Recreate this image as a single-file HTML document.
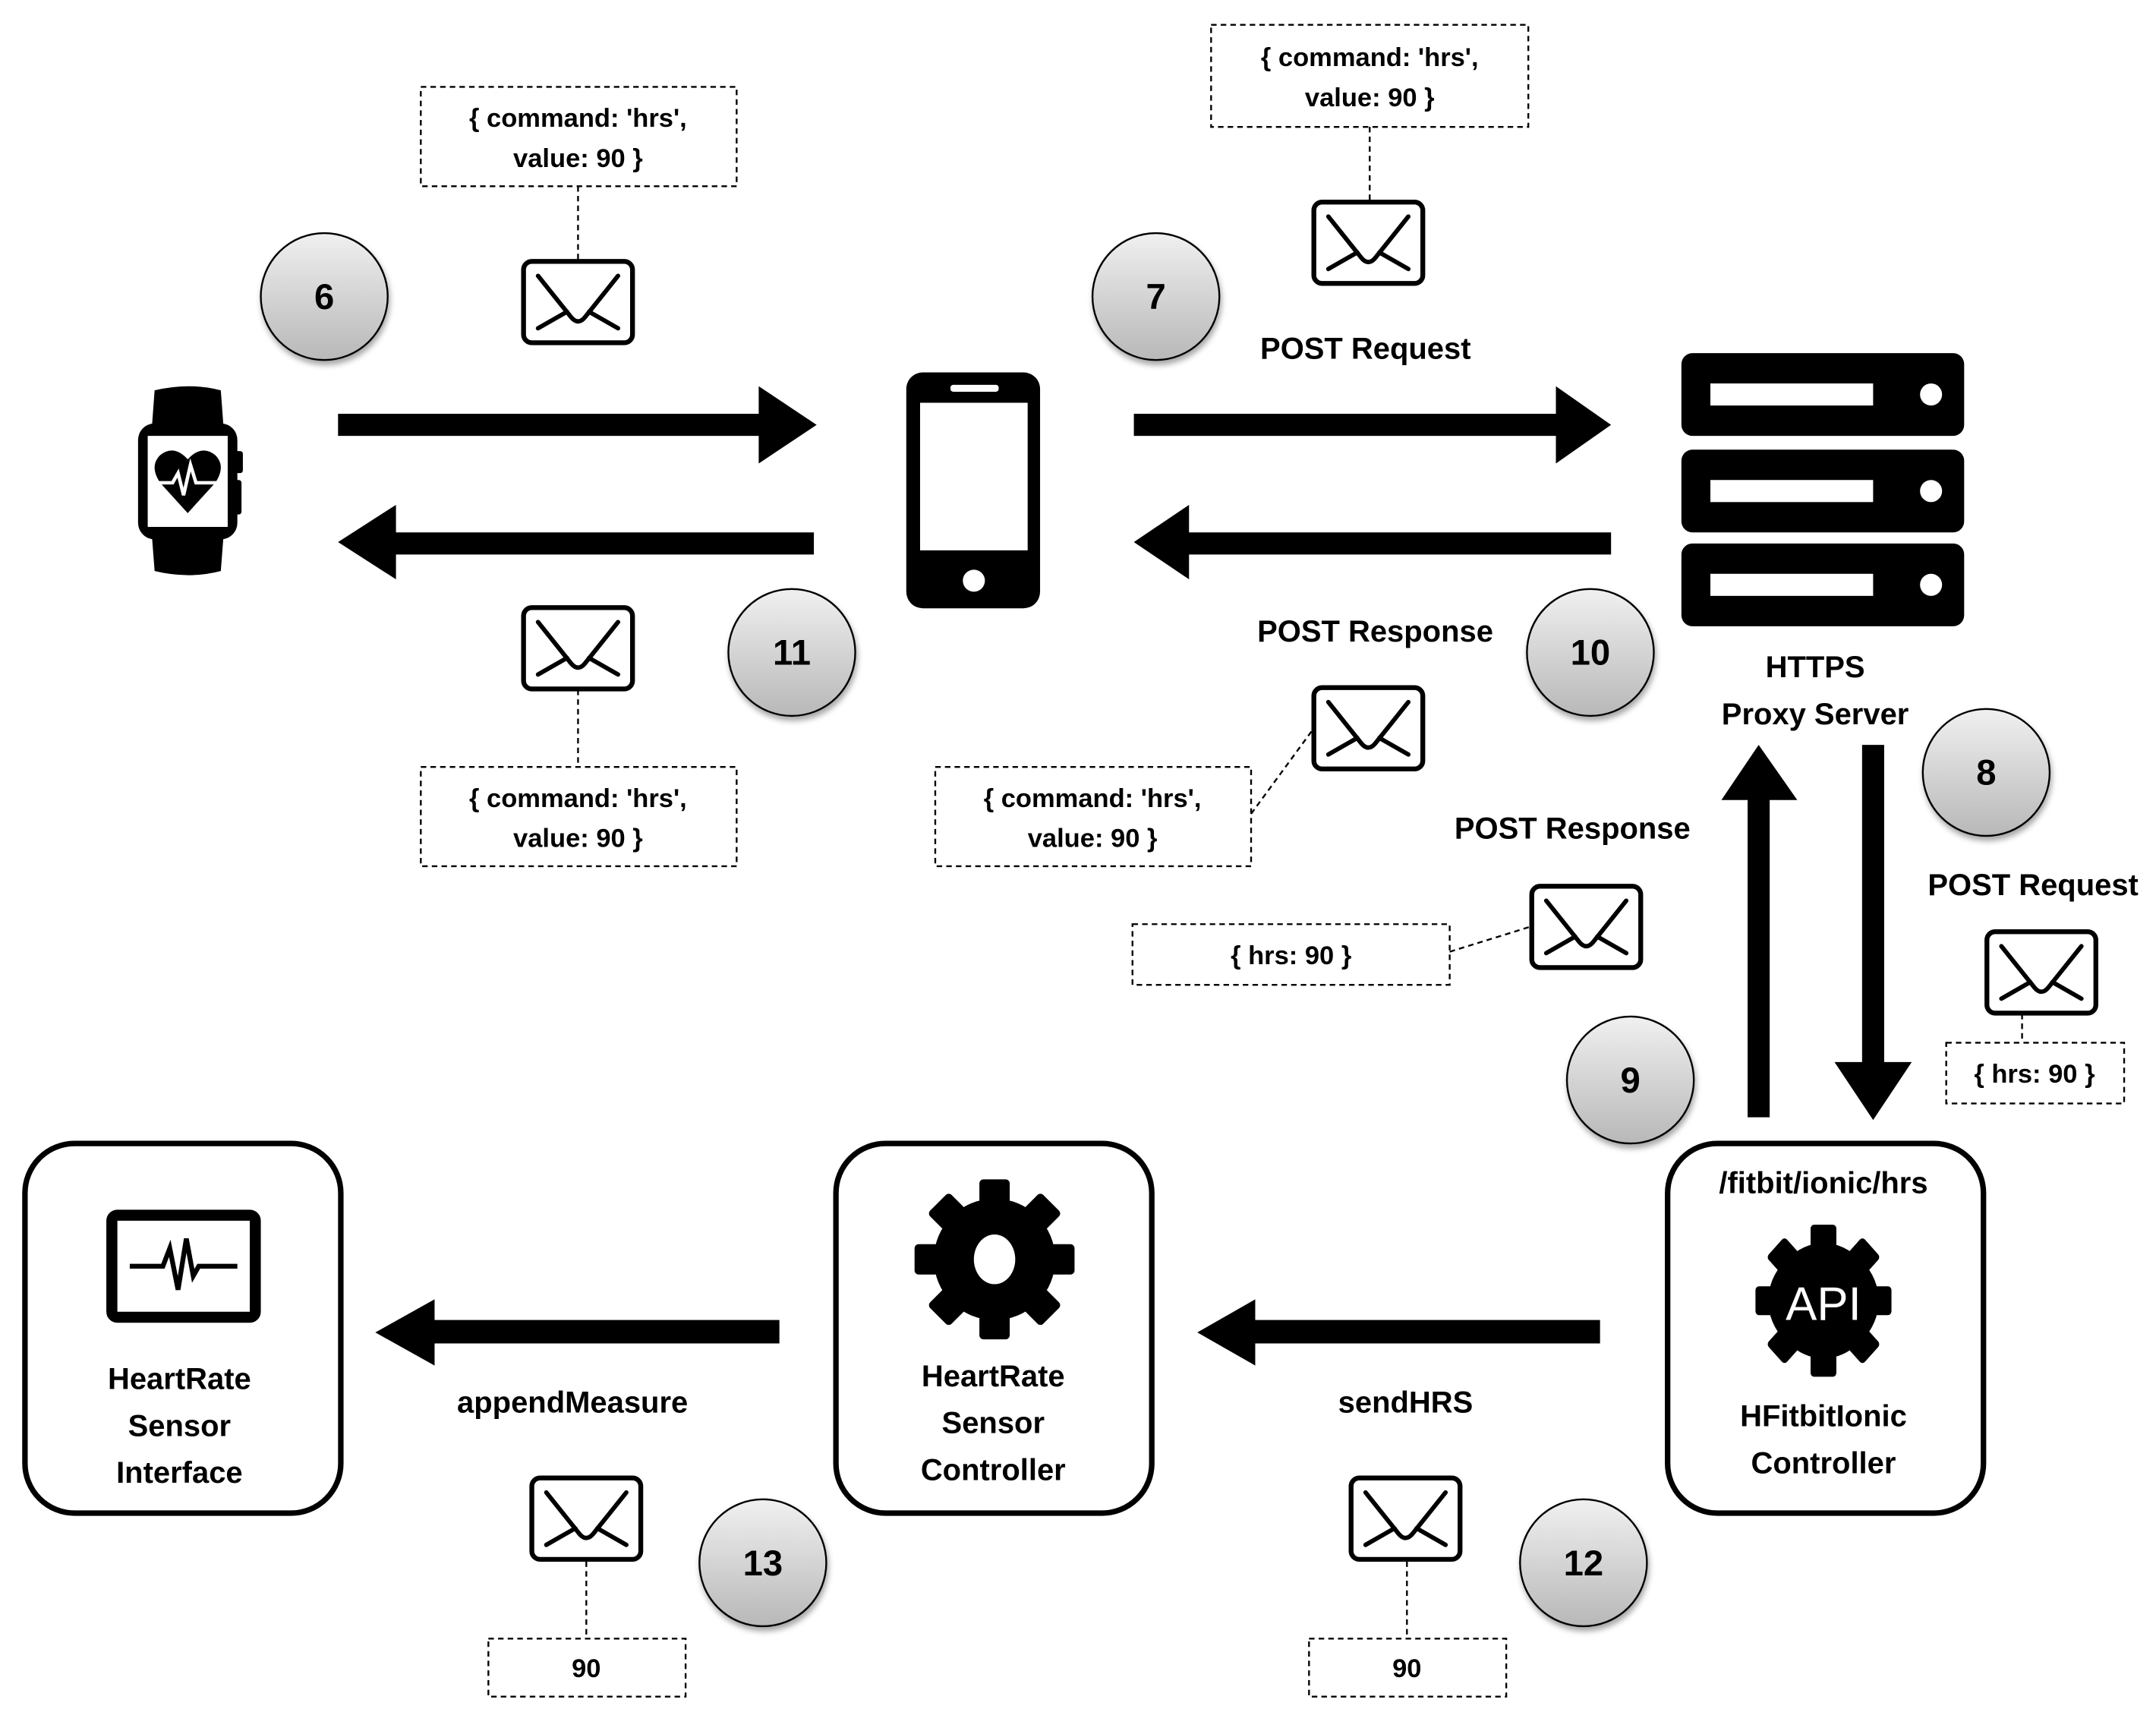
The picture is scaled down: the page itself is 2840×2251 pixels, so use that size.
<!DOCTYPE html>
<html><head><meta charset="utf-8"><style>
html,body{margin:0;padding:0;background:#fff;}
svg{display:block;}
text{font-family:"Liberation Sans",sans-serif;font-weight:bold;fill:#000;text-anchor:middle;}
.lbl{font-size:22px;}
.dt{font-size:19px;font-weight:bold;}
.num{font-size:26px;}
</style></head><body>
<svg width="2840" height="2251" viewBox="0 0 1563 1239" xmlns="http://www.w3.org/2000/svg">
<defs>
<linearGradient id="cg" x1="0" y1="0" x2="0" y2="1"><stop offset="0" stop-color="#f0f0f0"/><stop offset="1" stop-color="#b8b8b8"/></linearGradient>
<filter id="sh" x="-30%" y="-30%" width="160%" height="160%"><feDropShadow dx="1" dy="3" stdDeviation="2" flood-opacity="0.35"/></filter>
<g id="env"><rect x="1.5" y="1.5" width="79" height="59" rx="6" fill="#fff" stroke="#000" stroke-width="3.5"/>
<path d="M12 12 L36 42 Q41 48 46 42 L70 12 M12 50 L33 38 M70 50 L49 38" fill="none" stroke="#000" stroke-width="3.2" stroke-linecap="round"/></g>
<g id="gear"><circle r="44"/>
<g id="t"><rect x="-11" y="-58" width="22" height="24" rx="3"/><rect x="-11" y="34" width="22" height="24" rx="3"/></g>
<use href="#t" transform="rotate(45)"/><use href="#t" transform="rotate(90)"/><use href="#t" transform="rotate(135)"/></g>
</defs>
<rect width="1563" height="1239" fill="#fff"/>

<g fill="#000">
<polygon points="245,300 550,300 550,280 592,308 550,336 550,316 245,316"/>
<polygon points="590,386 287,386 287,366 245,393 287,420 287,402 590,402"/>
<polygon points="822,300 1128,300 1128,280 1168,308 1128,336 1128,316 822,316"/>
<polygon points="1168,386 862,386 862,366 822,393 862,420 862,402 1168,402"/>
<polygon points="1267,810 1267,580 1248,580 1275,540 1303,580 1283,580 1283,810"/>
<polygon points="1350,540 1350,770 1330,770 1358,812 1386,770 1366,770 1366,540"/>
<polygon points="565,957 315,957 315,942 272,966 315,990 315,974 565,974"/>
<polygon points="1160,957 910,957 910,942 868,966 910,990 910,974 1160,974"/>
</g>

<g fill="#fff" stroke="#000" stroke-width="1.3" stroke-dasharray="4,3">
<rect x="305" y="63" width="229" height="72"/>
<rect x="878" y="18" width="230" height="74"/>
<rect x="305" y="556" width="229" height="72"/>
<rect x="678" y="556" width="229" height="72"/>
<rect x="821" y="670" width="230" height="44"/>
<rect x="1411" y="756" width="129" height="44"/>
<rect x="354" y="1188" width="143" height="42"/>
<rect x="949" y="1188" width="143" height="42"/>
<path d="M419 135 V188 M993 92 V145 M419 500 V556 M907 590 L951 530 M1051 690 L1109 672 M1466 735 V756 M425 1132 V1188 M1020 1132 V1188" fill="none"/>
</g>
<text class="dt" x="419" y="92">{ command: 'hrs',</text><text class="dt" x="419" y="121">value: 90 }</text>
<text class="dt" x="993" y="48">{ command: 'hrs',</text><text class="dt" x="993" y="77">value: 90 }</text>
<text class="dt" x="419" y="585">{ command: 'hrs',</text><text class="dt" x="419" y="614">value: 90 }</text>
<text class="dt" x="792" y="585">{ command: 'hrs',</text><text class="dt" x="792" y="614">value: 90 }</text>
<text class="dt" x="936" y="699">{ hrs: 90 }</text>
<text class="dt" x="1475" y="785">{ hrs: 90 }</text>
<text class="dt" x="425" y="1216">90</text>
<text class="dt" x="1020" y="1216">90</text>

<use href="#env" x="378" y="188"/><use href="#env" x="951" y="145"/>
<use href="#env" x="378" y="439"/><use href="#env" x="951" y="497"/>
<use href="#env" x="1109" y="641"/><use href="#env" x="1439" y="674"/>
<use href="#env" x="384" y="1070"/><use href="#env" x="978" y="1070"/>

<g fill="url(#cg)" stroke="#000" stroke-width="1.3" filter="url(#sh)">
<circle cx="235" cy="215" r="46"/><circle cx="838" cy="215" r="46"/>
<circle cx="574" cy="473" r="46"/><circle cx="1153" cy="473" r="46"/>
<circle cx="1440" cy="560" r="46"/><circle cx="1182" cy="783" r="46"/>
<circle cx="553" cy="1133" r="46"/><circle cx="1148" cy="1133" r="46"/>
</g>
<text class="num" x="235" y="224">6</text><text class="num" x="838" y="224">7</text>
<text class="num" x="574" y="482">11</text><text class="num" x="1153" y="482">10</text>
<text class="num" x="1440" y="569">8</text><text class="num" x="1182" y="792">9</text>
<text class="num" x="553" y="1142">13</text><text class="num" x="1148" y="1142">12</text>

<text class="lbl" x="990" y="260">POST Request</text>
<text class="lbl" x="997" y="465">POST Response</text>
<text class="lbl" x="1140" y="608">POST Response</text>
<text class="lbl" x="1474" y="649">POST Request</text>
<text class="lbl" x="1316" y="491">HTTPS</text>
<text class="lbl" x="1316" y="525">Proxy Server</text>
<text class="lbl" x="415" y="1024">appendMeasure</text>
<text class="lbl" x="1019" y="1024">sendHRS</text>

<g>
<path d="M112 283 Q137 277 160 283 L162 310 L110 310 Z" fill="#000"/>
<path d="M110 388 L162 388 L160 414 Q137 420 112 414 Z" fill="#000"/>
<rect x="100" y="307" width="72" height="84" rx="12" fill="#000"/>
<rect x="170" y="327" width="6" height="16" rx="2" fill="#000"/>
<rect x="170" y="348" width="5" height="25" rx="2" fill="#000"/>
<rect x="107" y="316" width="58" height="66" fill="#fff"/>
<path d="M136 372 L116 350 Q108 338 116 330 Q126 322 136 333 Q146 322 156 330 Q164 338 156 350 Z" fill="#000"/>
<path d="M110 350 H125 L129 343 L133 359 L138 337 L142 350 H162" fill="none" stroke="#fff" stroke-width="2.5"/>
</g>

<rect x="657" y="270" width="97" height="171" rx="12" fill="#000"/>
<rect x="667" y="292" width="78" height="107" fill="#fff"/>
<rect x="689" y="279" width="35" height="5" rx="2" fill="#fff"/>
<circle cx="706" cy="421" r="8" fill="#fff"/>

<g fill="#000">
<rect x="1219" y="256" width="205" height="60" rx="8"/>
<rect x="1219" y="326" width="205" height="60" rx="8"/>
<rect x="1219" y="394" width="205" height="60" rx="8"/>
</g>
<g fill="#fff">
<rect x="1240" y="278" width="118" height="16"/><circle cx="1400" cy="286" r="8"/>
<rect x="1240" y="348" width="118" height="16"/><circle cx="1400" cy="356" r="8"/>
<rect x="1240" y="416" width="118" height="16"/><circle cx="1400" cy="424" r="8"/>
</g>

<g fill="none" stroke="#000" stroke-width="4">
<rect x="18" y="829" width="229" height="268" rx="36"/>
<rect x="606" y="829" width="229" height="268" rx="36"/>
<rect x="1209" y="829" width="229" height="268" rx="36"/>
</g>
<rect x="81" y="881" width="104" height="74" rx="4" fill="none" stroke="#000" stroke-width="8"/>
<path d="M94 918 H118 L123 905 L129 935 L135 898 L140 925 L144 918 H172" fill="none" stroke="#000" stroke-width="3.5"/>
<text class="lbl" x="130" y="1007">HeartRate</text>
<text class="lbl" x="130" y="1041">Sensor</text>
<text class="lbl" x="130" y="1075">Interface</text>
<g transform="translate(721,913)" fill="#000"><use href="#gear"/></g>
<ellipse cx="721" cy="913" rx="15" ry="18" fill="#fff"/>
<text class="lbl" x="720" y="1005">HeartRate</text>
<text class="lbl" x="720" y="1039">Sensor</text>
<text class="lbl" x="720" y="1073">Controller</text>
<text class="lbl" x="1322" y="865">/fitbit/ionic/hrs</text>
<g transform="translate(1322,943) scale(0.85,0.95)" fill="#000"><use href="#gear"/></g>
<circle cx="1322" cy="943" r="40" fill="#000"/>
<text x="1322" y="957" style="font-size:34px;fill:#fff;font-weight:normal">API</text>
<text class="lbl" x="1322" y="1034">HFitbitIonic</text>
<text class="lbl" x="1322" y="1068">Controller</text>
</svg>
</body></html>
